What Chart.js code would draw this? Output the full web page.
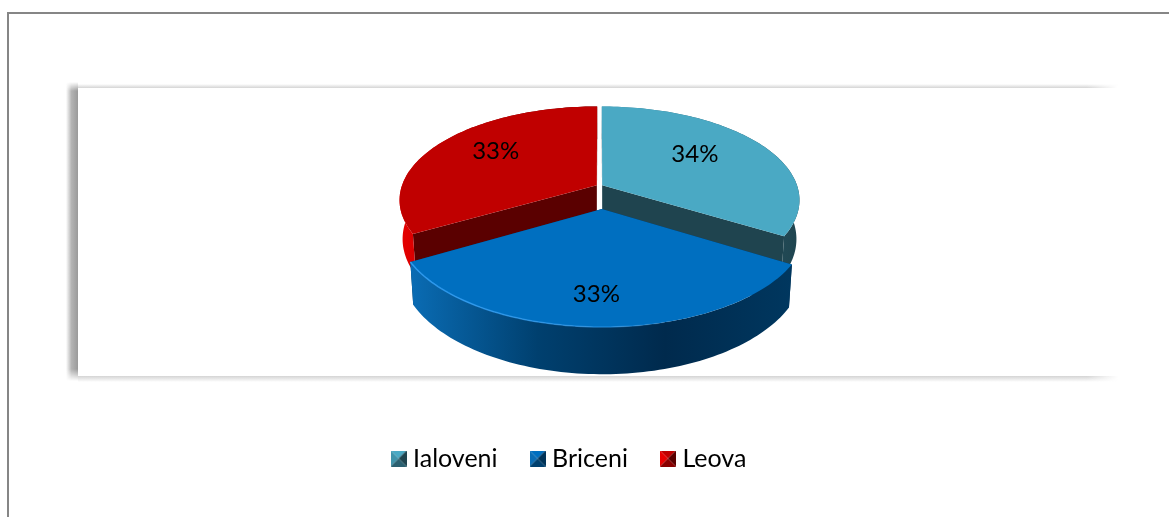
<!DOCTYPE html>
<html>
<head>
<meta charset="utf-8">
<title>Ialoveni Briceni Leova</title>
<script src="https://cdn.jsdelivr.net/npm/chart.js@4/dist/chart.umd.js"></script>
<style>
    html, body { margin: 0; background: #fff; overflow: hidden; }
    #page { position: relative; width: 1169px; height: 517px; }
    #frame { position: absolute; left: 7px; top: 12px; right: 0; bottom: 0; border-left: 2px solid #868686; border-top: 2px solid #868686; }
    .shadow { position: absolute; }
    #shadow-left { left: 66px; top: 82px; width: 12px; height: 299px; background: linear-gradient(to right, rgba(150,150,150,0), #b4b4b4 45%, #9a9a9a); -webkit-mask-image: linear-gradient(to bottom, transparent, #000 3%, #000 96%, transparent); }
    #shadow-top { left: 78px; top: 84px; width: 1040px; height: 4px; background: linear-gradient(to bottom, rgba(200,200,200,0), #d4d4d4); -webkit-mask-image: linear-gradient(to right, #000 97%, transparent); }
    #shadow-bottom { left: 78px; top: 376px; width: 1040px; height: 6px; background: linear-gradient(to bottom, #d4d4d4, rgba(225,225,225,0)); -webkit-mask-image: linear-gradient(to right, #000 97%, transparent); }
    canvas { position: absolute; left: 0; top: 0; }
</style>
</head>
<body>
<div id="page">
    <div id="frame"></div>
    <div class="shadow" id="shadow-left"></div>
    <div class="shadow" id="shadow-top"></div>
    <div class="shadow" id="shadow-bottom"></div>
    <canvas id="pieChart" width="1169" height="517"></canvas>
</div>
<script>
// Chart data
const categories = ["Ialoveni", "Briceni", "Leova"];
const shares = [33.6, 33.2, 33.2];

// Slice styles, same order as the categories
const explode = [0.016, 0.242, 0.016];
const nudge = [0, 0.015, 0];
const labelRadius = [0.57, 0.82, 0.63];
const topColors = ["#4aa9c4", "#006fc0", "#c00000"];
const innerWallColors = ["#1f444f", "#003358", "#5a0000"];
const outerWallStops = [
    ["#3f93aa", "#2a6070", "#1f444f"],
    ["#0a6cb4", "#00406f", "#002a4d", "#00375f"],
    ["#e80000", "#8a0000", "#5a0000"]
];

// Perspective of the disc
const view = { cx: 599.5, cy: 186, rx: 195, ry: 91.4, k: 0.157, depth: 38, taper: 0.0004 };

// Plane coordinates of the disc to screen pixels
function project(u, v, z) {
    const w = 1 - view.k * v;
    return { x: view.cx + view.rx * u * (1 - view.taper * z) / w, y: view.cy + (view.ry * v + z) / w };
}

// Points along the outer edge of a slice
function arcPoints(arc, off, z) {
    const pts = [];
    const steps = 90;
    for (let i = 0; i <= steps; i++) {
        const a = arc.startAngle + (arc.endAngle - arc.startAngle) * i / steps;
        pts.push(project(off.u + Math.cos(a), off.v + Math.sin(a), z));
    }
    return pts;
}

function fillPoly(ctx, pts, fill) {
    ctx.beginPath();
    pts.forEach((p, i) => (i ? ctx.lineTo(p.x, p.y) : ctx.moveTo(p.x, p.y)));
    ctx.closePath();
    ctx.fillStyle = fill;
    ctx.fill();
}

function drawSlice(ctx, arc, i) {
    const mid = (arc.startAngle + arc.endAngle) / 2;
    const off = { u: explode[i] * Math.cos(mid) + nudge[i], v: explode[i] * Math.sin(mid) };
    const top = arcPoints(arc, off, 0);
    const bottom = arcPoints(arc, off, view.depth);
    const apex = project(off.u, off.v, 0);
    const apexLow = project(off.u, off.v, view.depth);

    // Cut faces towards the centre
    fillPoly(ctx, [apex, top[0], bottom[0], apexLow], innerWallColors[i]);
    fillPoly(ctx, [apex, top[top.length - 1], bottom[bottom.length - 1], apexLow], innerWallColors[i]);

    // Outer wall with a horizontal gradient
    const xs = top.map((p) => p.x);
    const x0 = Math.min(...xs);
    const x1 = Math.max(...xs);
    const grad = ctx.createLinearGradient(x0, 0, x1, 0);
    outerWallStops[i].forEach((c, s) => grad.addColorStop(s / (outerWallStops[i].length - 1), c));
    fillPoly(ctx, top.concat(bottom.slice().reverse()), grad);

    // Top face
    fillPoly(ctx, [apex].concat(top), topColors[i]);

    // Light rim on the front slice
    if (i === 1) {
        const rim = ctx.createLinearGradient(x0, 0, x1, 0);
        rim.addColorStop(0, "#2f9bf0");
        rim.addColorStop(0.55, "rgba(47,155,240,0.5)");
        rim.addColorStop(0.7, "rgba(47,155,240,0)");
        ctx.beginPath();
        top.forEach((p, n) => (n ? ctx.lineTo(p.x, p.y) : ctx.moveTo(p.x, p.y)));
        ctx.strokeStyle = rim;
        ctx.lineWidth = 1.5;
        ctx.stroke();
    }
}

// Draws the pie from the angles Chart.js worked out for each arc
const pie3d = {
    id: "pie3d",
    beforeDatasetsDraw(chart) {
        const ctx = chart.ctx;
        const arcs = chart.getDatasetMeta(0).data;
        const total = shares.reduce((a, b) => a + b, 0);
        ctx.save();
        // the front slice goes last so it covers the other two
        [0, 2, 1].forEach((i) => drawSlice(ctx, arcs[i], i));
        ctx.fillStyle = "#000";
        ctx.font = "24px Lato";
        ctx.textAlign = "center";
        ctx.textBaseline = "middle";
        arcs.forEach((arc, i) => {
            const mid = (arc.startAngle + arc.endAngle) / 2;
            const r = explode[i] + labelRadius[i];
            const p = project(r * Math.cos(mid), r * Math.sin(mid), -7);
            ctx.fillText(Math.round(shares[i] / total * 100) + "%", p.x, p.y);
        });
        ctx.restore();
        return false;
    }
};

// Legend marker, a small pyramid seen from above
function makeSwatch(i) {
    const c = document.createElement("canvas");
    c.width = 16;
    c.height = 16;
    const g = c.getContext("2d");
    const tri = (x1, y1, x2, y2, fill) => {
        g.beginPath();
        g.moveTo(8, 8);
        g.lineTo(x1, y1);
        g.lineTo(x2, y2);
        g.closePath();
        g.fillStyle = fill;
        g.fill();
    };
    tri(0, 0, 16, 0, topColors[i]);
    tri(0, 0, 0, 16, outerWallStops[i][0]);
    tri(16, 0, 16, 16, innerWallColors[i]);
    tri(0, 16, 16, 16, outerWallStops[i][1]);
    return c;
}

new Chart(document.getElementById("pieChart"), {
    type: "pie",
    data: {
        labels: categories,
        datasets: [{ data: shares, backgroundColor: topColors, borderWidth: 0 }]
    },
    options: {
        responsive: false,
        animation: false,
        layout: { padding: { right: 26, bottom: 36 } },
        plugins: {
            tooltip: { enabled: false },
            legend: {
                position: "bottom",
                labels: {
                    usePointStyle: true,
                    pointStyleWidth: 4,
                    padding: 38,
                    color: "#000",
                    font: { family: "Lato", size: 25 },
                    generateLabels: () => categories.map((text, i) => ({
                        text,
                        fillStyle: topColors[i],
                        strokeStyle: topColors[i],
                        lineWidth: 0,
                        pointStyle: makeSwatch(i),
                        hidden: false,
                        index: i
                    }))
                }
            }
        }
    },
    plugins: [pie3d]
});
</script>
</body>
</html>
